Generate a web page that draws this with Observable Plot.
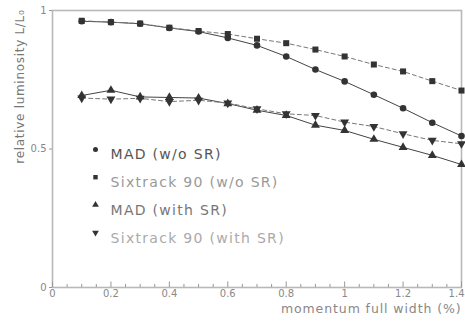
<!DOCTYPE html>
<html>
<head>
<meta charset="utf-8">
<script src="https://cdn.jsdelivr.net/npm/d3@7"></script>
<script src="https://cdn.jsdelivr.net/npm/@observablehq/plot@0.6"></script>
<style>
  body { margin: 0; background: #fff; }
  svg { display: block; }
</style>
</head>
<body>
<div id="chart"></div>
<script>
const xs = [0.1, 0.2, 0.3, 0.4, 0.5, 0.6, 0.7, 0.8, 0.9, 1.0, 1.1, 1.2, 1.3, 1.4];
const madNoSR = [0.961, 0.958, 0.952, 0.937, 0.924, 0.901, 0.874, 0.834, 0.787, 0.744, 0.696, 0.647, 0.595, 0.547];
const sixNoSR = [0.963, 0.958, 0.953, 0.938, 0.926, 0.915, 0.898, 0.882, 0.859, 0.834, 0.805, 0.780, 0.745, 0.711];
const madSR   = [0.693, 0.712, 0.688, 0.686, 0.684, 0.664, 0.640, 0.621, 0.586, 0.567, 0.535, 0.506, 0.477, 0.444];
const sixSR   = [0.684, 0.680, 0.683, 0.671, 0.676, 0.666, 0.645, 0.627, 0.621, 0.597, 0.581, 0.555, 0.531, 0.519];
const seriesNames = ["MAD (w/o SR)", "Sixtrack 90 (w/o SR)", "MAD (with SR)", "Sixtrack 90 (with SR)"];
const xTicks = [0, 0.2, 0.4, 0.6, 0.8, 1.0, 1.2, 1.4];
const xTickLabels = ["0", "0.2", "0.4", "0.6", "0.8", "1", "1.2", "1.4"];
const yTicks = [0, 0.5, 1];
const yTickLabels = ["0", "0.5", "1"];
const xMinorTicks = d3.range(0, 29).map(i => i * 0.05);
const yTitle = "relative luminosity L/L\u2080";
const xTitle = "momentum full width (%)";

const triangleDown = {
  draw(ctx, size) {
    const s3 = Math.sqrt(3);
    const y = -Math.sqrt(size / (s3 * 3));
    ctx.moveTo(0, -y * 2);
    ctx.lineTo(-s3 * y, y);
    ctx.lineTo(s3 * y, y);
    ctx.closePath();
  }
};

const symbols = [d3.symbolCircle, d3.symbolSquare, d3.symbolTriangle, triangleDown];
const dashes = [null, "4,3", null, "4,3"];
const values = [madNoSR, sixNoSR, madSR, sixSR];
const legendColors = ["#555", "#999", "#777", "#aaa"];

const rows = [];
values.forEach((vals, k) => vals.forEach((v, i) => rows.push({x: xs[i], y: v, s: k})));

const marks = [];
marks.push(Plot.frame({stroke: "#b8b8b8", strokeWidth: 1.6}));
marks.push(Plot.ruleX(xMinorTicks, {x: d => d, y1: 0, y2: d => (Math.abs(d / 0.2 - Math.round(d / 0.2)) < 1e-6 ? 0.02 : 0.011), stroke: "#999", strokeWidth: 1}));
values.forEach((vals, k) => {
  const data = rows.filter(r => r.s === k);
  marks.push(Plot.line(data, {x: "x", y: "y", stroke: k % 2 ? "#777" : "#444", strokeWidth: 1, strokeDasharray: dashes[k]}));
  marks.push(Plot.dot(data, {x: "x", y: "y", symbol: () => symbols[k], fill: "#333", stroke: "none", r: k === 1 ? 3.4 : 3.3}));
});
seriesNames.forEach((name, k) => {
  marks.push(Plot.dot([name], {frameAnchor: "top-left", dx: 43, dy: 139 + 27.7 * k, symbol: () => symbols[k], fill: "#333", r: 2.5}));
  marks.push(Plot.text([name], {frameAnchor: "top-left", dx: 58, dy: 139 + 27.7 * k, text: d => d, textAnchor: "start", fill: legendColors[k], fontSize: 14, fontFamily: "DejaVu Sans"}));
});
marks.push(Plot.text([yTitle], {frameAnchor: "top-left", dx: -37, dy: -1, rotate: -90, textAnchor: "end", text: d => d, fill: "#777", fontSize: 12, fontFamily: "DejaVu Sans"}));
marks.push(Plot.text([xTitle], {frameAnchor: "bottom-right", dx: 0, dy: 25, textAnchor: "end", text: d => d, fill: "#888", fontSize: 12.5, fontFamily: "DejaVu Sans"}));
const xLab = xTicks.map((t, i) => ({t, label: xTickLabels[i], last: i === xTicks.length - 1}));
marks.push(Plot.text(xLab.filter(d => !d.last), {x: "t", frameAnchor: "bottom", dy: 9, text: "label", fill: "#888", fontSize: 10, fontFamily: "DejaVu Sans"}));
marks.push(Plot.text(xLab.filter(d => d.last), {x: "t", frameAnchor: "bottom", dy: 9, dx: 3, textAnchor: "end", text: "label", fill: "#888", fontSize: 10, fontFamily: "DejaVu Sans"}));
marks.push(Plot.axisY(yTicks, {tickSize: 3, tickPadding: 3, stroke: "#999", tickFormat: (d, i) => yTickLabels[i], fill: "#888", fontSize: 10, fontFamily: "DejaVu Sans", label: null}));

const chart = Plot.plot({
  width: 465,
  height: 322,
  marginLeft: 52,
  marginRight: 4,
  marginTop: 10,
  marginBottom: 35,
  x: {domain: [0, 1.4], label: null, axis: null},
  y: {domain: [0, 1], label: null},
  style: {background: "#fff", fontFamily: "DejaVu Sans"},
  marks
});
d3.select(chart).selectAll("text").each(function() {
  const t = this.textContent;
  if (seriesNames.includes(t)) this.style.letterSpacing = "1.3px";
  else if (t === xTitle) this.style.letterSpacing = "0.9px";
  else if (t === yTitle) this.style.letterSpacing = "0.7px";
});
document.getElementById("chart").appendChild(chart);
</script>
</body>
</html>
